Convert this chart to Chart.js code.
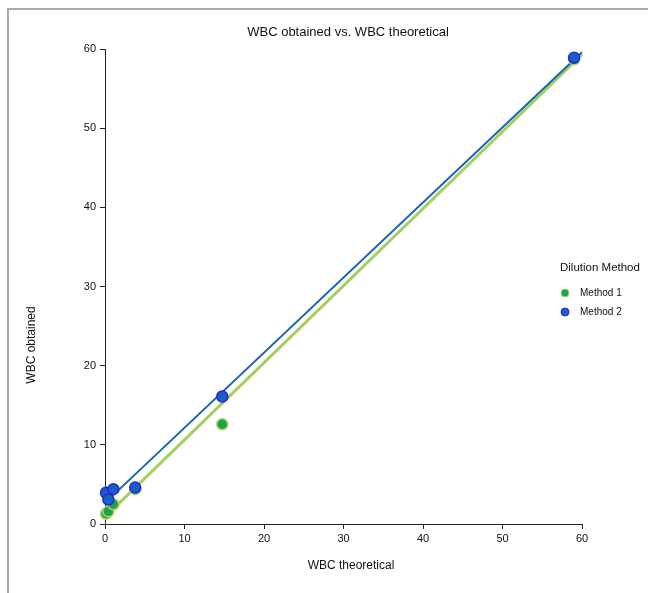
<!DOCTYPE html>
<html>
<head>
<meta charset="utf-8">
<script src="https://cdn.jsdelivr.net/npm/chart.js@4"></script>
<style>
  body { margin: 0; background: #fff; }
  #wrap { width: 648px; height: 593px; position: relative; }
</style>
</head>
<body>
<div id="wrap"><canvas id="myChart"></canvas></div>
<script>
const method1X = [0.13, 0.42, 1.05, 3.8, 14.75, 59];
const method1Y = [1.3, 1.6, 2.5, 4.4, 12.6, 58.7];
const method2X = [0.13, 0.42, 1.05, 3.8, 14.75, 59];
const method2Y = [3.95, 3.1, 4.4, 4.6, 16.1, 58.9];

// fitted lines, endpoints
const fitX = [0, 60];
const method1Fit = [0.9, 59.3];
const method2Fit = [2.67, 59.6];

const tickValues = [0, 10, 20, 30, 40, 50, 60];

const toPoints = (xs, ys) => xs.map((x, i) => ({ x: x, y: ys[i] }));

const FONT = 'Liberation Sans, Arial, sans-serif';

const decor = {
    id: 'decor',
    beforeDraw(chart) {
        const ctx = chart.ctx;
        ctx.save();
        ctx.strokeStyle = '#aaaaaa';
        ctx.lineWidth = 2;
        ctx.beginPath();
        ctx.moveTo(8, 593);
        ctx.lineTo(8, 9);
        ctx.lineTo(648, 9);
        ctx.stroke();
        ctx.restore();
    },
    afterDraw(chart) {
        const ctx = chart.ctx;
        ctx.save();
        ctx.fillStyle = '#111';
        ctx.textAlign = 'center';
        ctx.textBaseline = 'middle';
        ctx.font = '13px ' + FONT;
        ctx.fillText('WBC obtained vs. WBC theoretical', 348, 32);
        ctx.font = '12px ' + FONT;
        ctx.fillText('WBC theoretical', 351, 566);
        ctx.save();
        ctx.translate(32, 345);
        ctx.rotate(-Math.PI / 2);
        ctx.fillText('WBC obtained', 0, 0);
        ctx.restore();

        // legend
        ctx.textAlign = 'left';
        ctx.font = '11.5px ' + FONT;
        ctx.fillText('Dilution Method', 560, 268);
        const items = [chart.data.datasets[2], chart.data.datasets[3]];
        ctx.font = '10px ' + FONT;
        items.forEach((ds, i) => {
            const y = 293 + i * 19;
            ctx.beginPath();
            ctx.arc(565, y, 4, 0, Math.PI * 2);
            ctx.fillStyle = ds.backgroundColor;
            ctx.fill();
            ctx.lineWidth = 1;
            ctx.strokeStyle = ds.borderColor;
            ctx.stroke();
            ctx.fillStyle = '#111';
            ctx.fillText(ds.label, 580, y);
        });
        ctx.restore();
    }
};

const axisCommon = {
    type: 'linear',
    min: 0,
    max: 60,
    grid: { display: true, drawOnChartArea: false, drawTicks: true, tickLength: 5, color: '#222', lineWidth: 1 },
    border: { display: true, color: '#222', width: 1 },
    afterBuildTicks: (axis) => { axis.ticks = tickValues.map(v => ({ value: v })); }
};

const config = {
    type: 'scatter',
    data: {
        datasets: [
            {
                type: 'line',
                label: 'fit1',
                data: toPoints(fitX, method1Fit),
                borderColor: '#a4cf5f',
                borderWidth: 3,
                pointRadius: 0,
                fill: false,
                clip: false,
                order: 4
            },
            {
                type: 'line',
                label: 'fit2',
                data: toPoints(fitX, method2Fit),
                borderColor: '#1565b4',
                borderWidth: 2,
                pointRadius: 0,
                fill: false,
                clip: false,
                order: 3
            },
            {
                label: 'Method 1',
                data: toPoints(method1X, method1Y),
                backgroundColor: '#1fa347',
                borderColor: '#a8d46a',
                borderWidth: 1.5,
                pointRadius: 5.5,
                clip: false,
                order: 2
            },
            {
                label: 'Method 2',
                data: toPoints(method2X, method2Y),
                backgroundColor: '#1a5fc0',
                borderColor: '#2626e0',
                borderWidth: 1.5,
                pointRadius: 5.5,
                clip: false,
                order: 1
            }
        ]
    },
    options: {
        responsive: true,
        maintainAspectRatio: false,
        animation: false,
        layout: { padding: { top: 49, right: 66, left: 0, bottom: 0 } },
        plugins: {
            legend: { display: false },
            title: { display: false },
            tooltip: { enabled: false }
        },
        scales: {
            x: Object.assign({}, axisCommon, {
                ticks: { color: '#111', font: { family: FONT, size: 11 }, padding: 3, maxRotation: 0 },
                afterFit: (axis) => { axis.height = 69; }
            }),
            y: Object.assign({}, axisCommon, {
                ticks: { color: '#111', font: { family: FONT, size: 11 }, padding: 4 },
                afterFit: (axis) => { axis.width = 105; }
            })
        }
    },
    plugins: [decor]
};

const myChart = new Chart(document.getElementById('myChart'), config);
</script>
</body>
</html>
